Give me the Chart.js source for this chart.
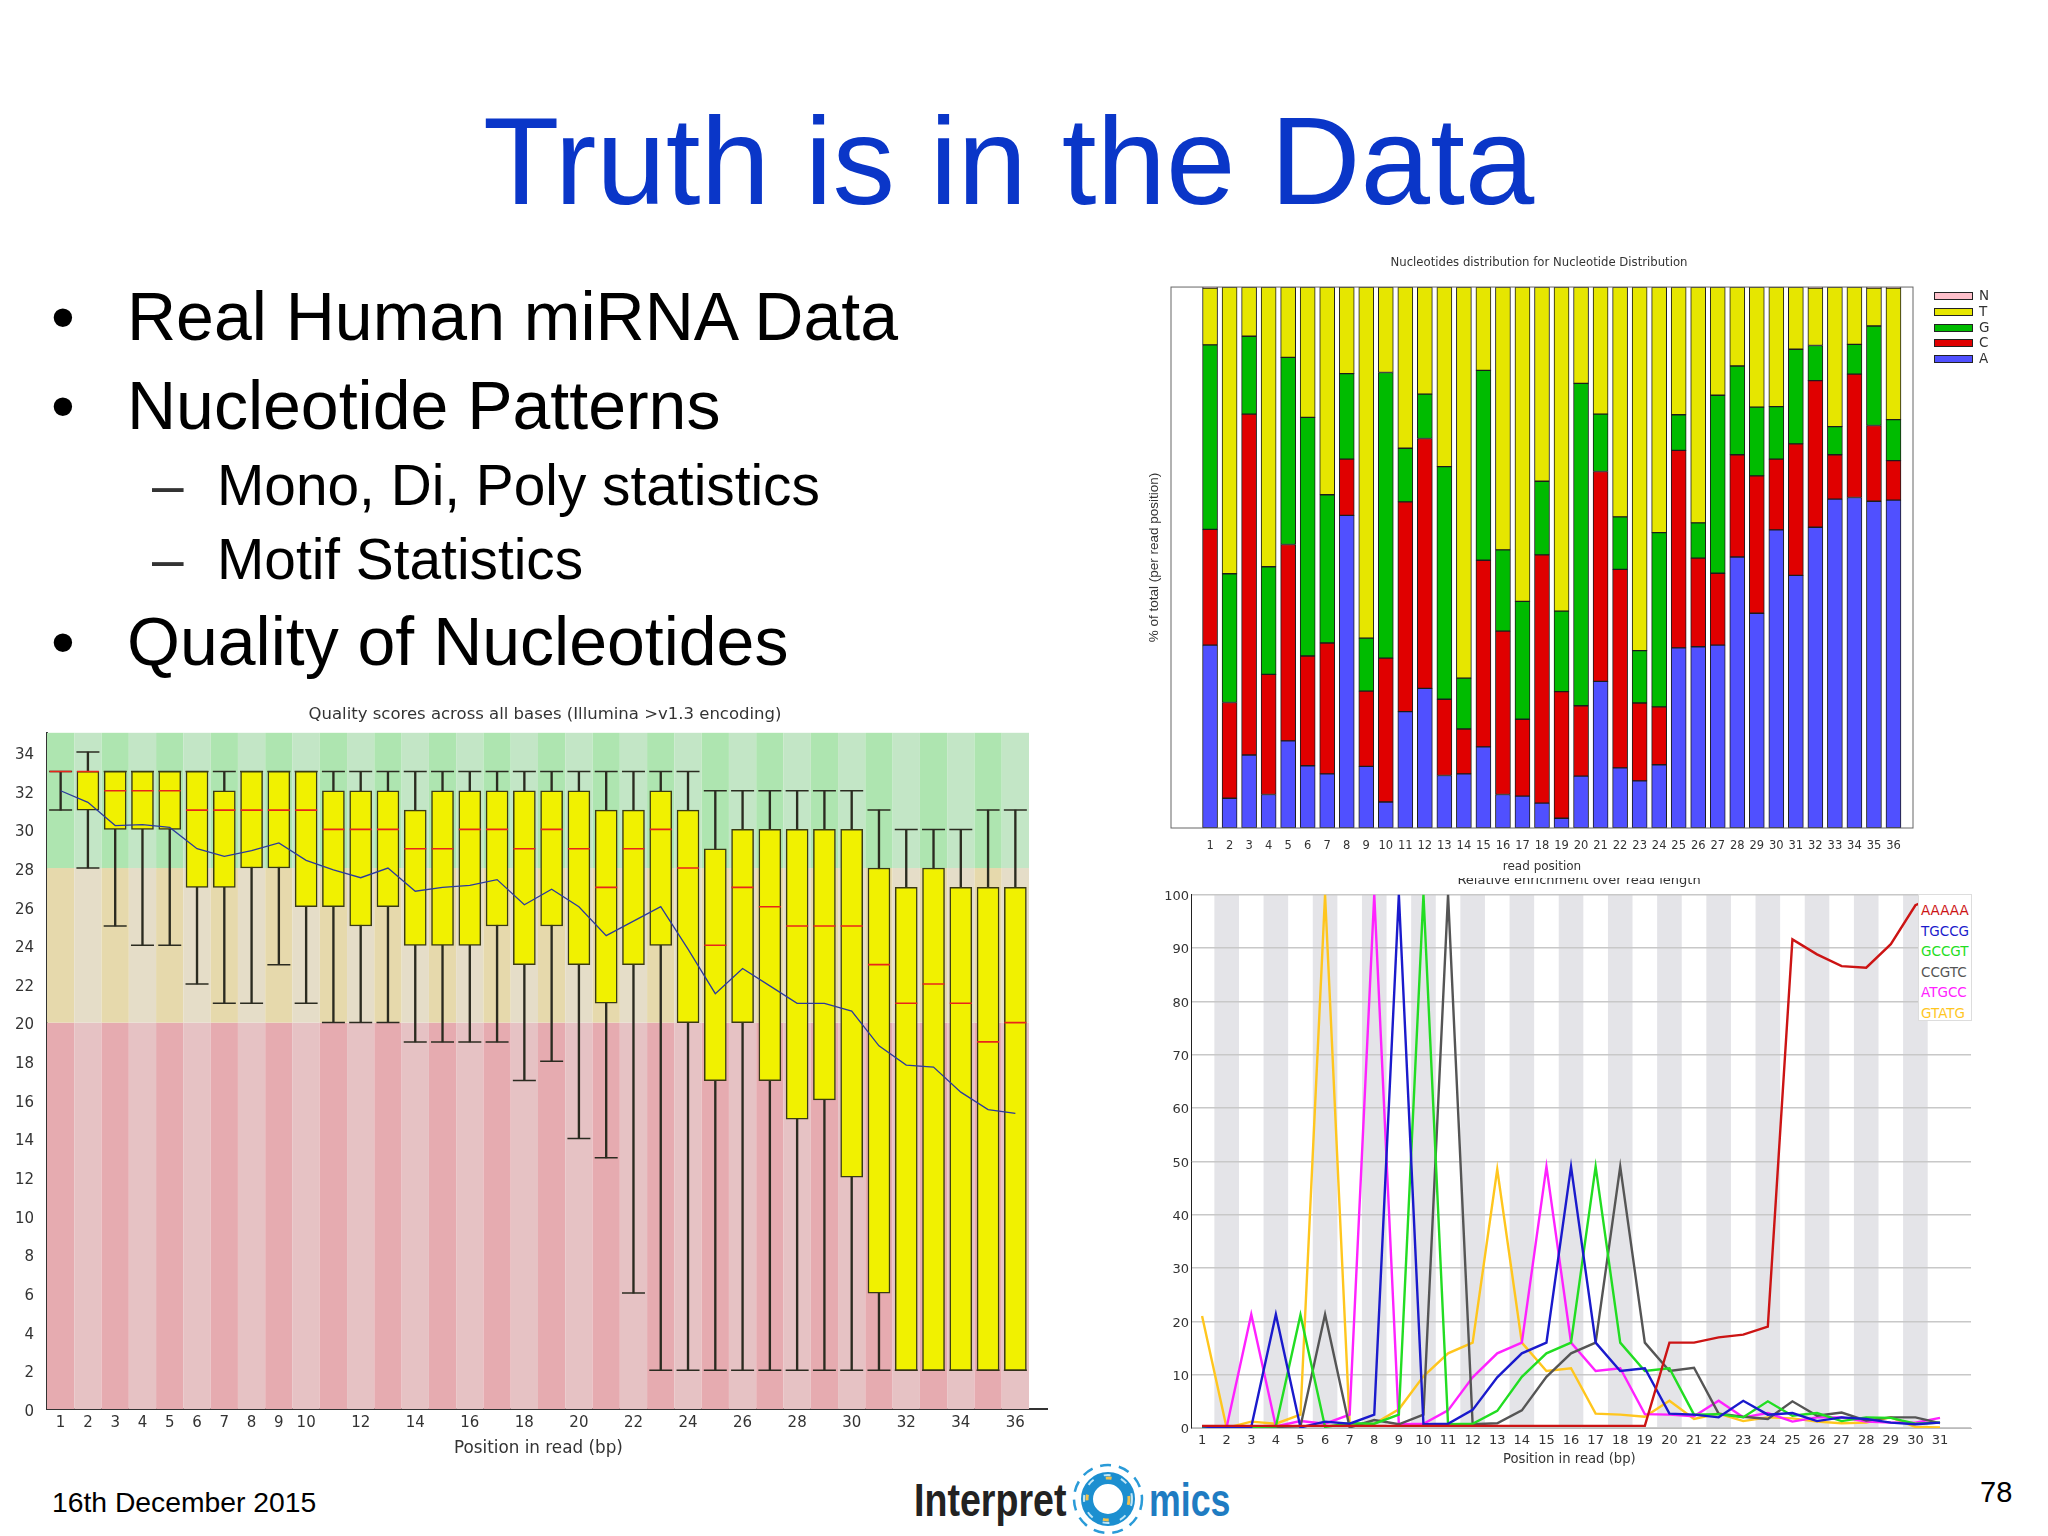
<!DOCTYPE html>
<html>
<head>
<meta charset="utf-8">
<title>Truth is in the Data</title>
<script src="https://cdn.jsdelivr.net/npm/chart.js@4"></script>
<style>
  html, body { margin: 0; background: #fff; }
  #slide { position: relative; width: 2048px; height: 1536px; overflow: hidden; font-family: "Liberation Sans", Arial, sans-serif; color: #000; }
  #slide canvas { position: absolute; }
  .txt { position: absolute; white-space: nowrap; line-height: 1; }
  .legendA { position: absolute; font-family: "DejaVu Sans", sans-serif; }
</style>
</head>
<body>
<div id="slide">
  <div class="txt" style="left:483px;top:98px;font-size:125px;color:#0a36c8">Truth is in the Data</div>

  <div class="txt" style="left:51px;top:282px;font-size:68px">•</div>
  <div class="txt" style="left:127px;top:282px;font-size:68px">Real Human miRNA Data</div>
  <div class="txt" style="left:51px;top:371px;font-size:68px">•</div>
  <div class="txt" style="left:127px;top:371px;font-size:68px">Nucleotide Patterns</div>
  <div class="txt" style="left:152px;top:458px;font-size:56.8px;color:#333">–</div>
  <div class="txt" style="left:217px;top:458px;font-size:56.8px">Mono, Di, Poly statistics</div>
  <div class="txt" style="left:152px;top:532px;font-size:56.8px;color:#333">–</div>
  <div class="txt" style="left:217px;top:532px;font-size:56.8px">Motif Statistics</div>
  <div class="txt" style="left:51px;top:607px;font-size:68px">•</div>
  <div class="txt" style="left:127px;top:607px;font-size:68px">Quality of Nucleotides</div>

  <div class="txt" style="left:52px;top:1488px;font-size:28.3px">16th December 2015</div>
  <div class="txt" style="left:1980px;top:1478px;font-size:29px">78</div>

  <div class="txt" style="left:914px;top:1476px;font-size:47px;font-weight:bold;color:#222;font-family:'Liberation Sans Narrow','Liberation Sans';transform-origin:0 0;transform:scaleX(0.8)">Interpret</div>
  <div class="txt" style="left:1149px;top:1476px;font-size:47px;font-weight:bold;color:#1f7cc2;font-family:'Liberation Sans Narrow','Liberation Sans';transform-origin:0 0;transform:scaleX(0.76)">mics</div>
  <svg style="position:absolute;left:1068px;top:1459px" width="80" height="80" viewBox="0 0 80 80">
    <circle cx="40" cy="40" r="21" fill="none" stroke="#1c8fd0" stroke-width="12"/>
    <circle cx="40" cy="40" r="21" fill="none" stroke="#f2c14e" stroke-width="3" stroke-dasharray="6 26"/>
    <circle cx="40" cy="40" r="24" fill="none" stroke="#bfe6f7" stroke-width="2" stroke-dasharray="7 11"/>
    <circle cx="40" cy="40" r="34" fill="none" stroke="#2a9bd8" stroke-width="2.5" stroke-dasharray="11 8"/>
  </svg>

  <canvas id="qualityChart" style="left:0;top:700px;z-index:1" width="1090" height="770"></canvas>
  <canvas id="kmerChart" style="left:1130px;top:860px;z-index:1" width="898" height="620"></canvas>
  <canvas id="nucChart" style="left:1130px;top:240px;z-index:2;background:#fff" width="818" height="638"></canvas>
  <div id="nucLegend" style="z-index:3"></div>
  <div id="kmerLegend" style="position:absolute;z-index:3;left:1918px;top:894px;width:52px;height:125px;background:#fff;border:1px solid #ddd"></div>
  <div class="txt" style="left:454px;top:1439px;z-index:3;font-family:'DejaVu Sans';font-size:16.8px;color:#333">Position in read (bp)</div>
  <div class="txt" style="left:1503px;top:1452px;z-index:3;font-family:'DejaVu Sans';font-size:13.2px;color:#333">Position in read (bp)</div>
</div>

<script>
// ---- Quality scores ----
const qualityPositions = [];
for (let i = 1; i <= 36; i++) qualityPositions.push(i);
const qualityXTicks = [1, 2, 3, 4, 5, 6, 7, 8, 9, 10, 12, 14, 16, 18, 20, 22, 24, 26, 28, 30, 32, 34, 36];
const qualityYTicks = [0, 2, 4, 6, 8, 10, 12, 14, 16, 18, 20, 22, 24, 26, 28, 30, 32, 34];
const whiskerLow = [31, 28, 25, 24, 24, 22, 21, 21, 23, 21, 20, 20, 20, 19, 19, 19, 19, 17, 18, 14, 13, 6, 2, 2, 2, 2, 2, 2, 2, 2, 2, 2, 2, 2, 2, 2];
const boxQ1 = [33, 31, 30, 30, 30, 27, 27, 28, 28, 26, 26, 25, 26, 24, 24, 24, 25, 23, 25, 23, 21, 23, 24, 20, 17, 20, 17, 15, 16, 12, 6, 2, 2, 2, 2, 2];
const boxMedian = [33, 33, 32, 32, 32, 31, 31, 31, 31, 31, 30, 30, 30, 29, 29, 30, 30, 29, 30, 29, 27, 29, 30, 28, 24, 27, 26, 25, 25, 25, 23, 21, 22, 21, 19, 20];
const boxQ3 = [33, 33, 33, 33, 33, 33, 32, 33, 33, 33, 32, 32, 32, 31, 32, 32, 32, 32, 32, 32, 31, 31, 32, 31, 29, 30, 30, 30, 30, 30, 28, 27, 28, 27, 27, 27];
const whiskerHigh = [33, 34, 33, 33, 33, 33, 33, 33, 33, 33, 33, 33, 33, 33, 33, 33, 33, 33, 33, 33, 33, 33, 33, 33, 32, 32, 32, 32, 32, 32, 31, 30, 30, 30, 31, 31];
const qualityMean = [32, 31.4, 30.2, 30.25, 30.1, 29, 28.6, 28.9, 29.3, 28.4, 27.9, 27.5, 28, 26.8, 27, 27.1, 27.4, 26.1, 26.9, 26, 24.5, 25.25, 26, 23.8, 21.5, 22.8, 21.9, 21, 21, 20.6, 18.8, 17.8, 17.7, 16.4, 15.5, 15.3];
const zoneEdges = [0, 20, 28, 35];
const zoneDark = ["#e6abb0", "#e6d9ac", "#aee5b0"];
const zoneLight = ["#e6c2c4", "#e5ddc8", "#c3e6c6"];

// ---- Nucleotide distribution ----
const nucPositions = [];
for (let i = 1; i <= 36; i++) nucPositions.push(i);
const nucA = [33.8, 5.5, 13.5, 6.2, 16.1, 11.5, 10, 57.8, 11.4, 4.8, 21.5, 25.8, 9.7, 10, 15, 6.2, 5.9, 4.6, 1.8, 9.6, 27.1, 11.1, 8.7, 11.7, 33.3, 33.5, 33.8, 50.1, 39.7, 55.1, 46.7, 55.6, 60.8, 61.1, 60.4, 60.6];
const nucC = [21.4, 17.7, 63, 22.2, 36.3, 20.3, 24.2, 10.4, 13.9, 26.6, 38.8, 46.2, 14.1, 8.3, 34.5, 30.2, 14.2, 45.9, 23.4, 13, 38.8, 36.7, 14.4, 10.7, 36.5, 16.4, 13.3, 18.9, 25.4, 13.1, 24.3, 27.1, 8.2, 22.8, 14, 7.3];
const nucG = [34.1, 23.8, 14.4, 19.9, 34.6, 44.1, 27.4, 15.8, 9.8, 52.8, 9.9, 8.2, 43, 9.4, 35.1, 15, 21.8, 13.6, 14.9, 59.6, 10.6, 9.7, 9.7, 32.2, 6.6, 6.5, 32.9, 16.4, 12.7, 9.7, 17.5, 6.5, 5.2, 5.5, 18.4, 7.6];
const nucT = [10.5, 53, 9.1, 51.7, 13, 24.1, 38.4, 16, 64.9, 15.8, 29.8, 19.8, 33.2, 72.3, 15.4, 48.6, 58.1, 35.9, 59.9, 17.8, 23.5, 42.5, 67.2, 45.4, 23.6, 43.6, 20, 14.6, 22.2, 22.1, 11.5, 10.6, 25.8, 10.6, 7, 24.3];
const nucN = [0.2, 0, 0, 0, 0, 0, 0, 0, 0, 0, 0, 0, 0, 0, 0, 0, 0, 0, 0, 0, 0, 0, 0, 0, 0, 0, 0, 0, 0, 0, 0, 0.2, 0, 0, 0.2, 0.2];
const nucNames = ["N", "T", "G", "C", "A"];
const nucColors = ["#ffc0cb", "#e6e600", "#00bb00", "#e00000", "#5050ff"];

// ---- Relative enrichment ----
const kmerPositions = [];
for (let i = 1; i <= 31; i++) kmerPositions.push(i);
const kmerNames = ["AAAAA", "TGCCG", "GCCGT", "CCGTC", "ATGCC", "GTATG"];
const kmerColors = ["#cc1414", "#1a1acc", "#22dd22", "#555555", "#ff22ff", "#ffc61e"];
const aaaaa = [0.4, 0.4, 0.4, 0.4, 0.4, 0.4, 0.4, 0.4, 0.4, 0.4, 0.4, 0.4, 0.4, 0.4, 0.4, 0.4, 0.4, 0.4, 0.4, 16, 16, 17, 17.5, 19, 91.6, 88.8, 86.6, 86.3, 90.7, 98, 100];
const tgccg = [0.3, 0, 0.2, 21.3, 0.1, 1.2, 0.8, 2.5, 100, 0.7, 0.8, 3.4, 9.5, 14, 16, 49, 16, 10.7, 11.2, 2.7, 2.5, 2, 5.1, 2.5, 2.8, 1.3, 2, 1.7, 1, 0.7, 1];
const gccgt = [0.2, 0, 0.2, 0.3, 21.2, 0.2, 0.9, 0.8, 2.5, 100, 0.7, 0.8, 3.2, 9.6, 14, 16, 49, 16, 10.7, 11.2, 2.5, 2.6, 2, 5, 2.3, 2.8, 1.3, 2, 1.9, 0.8, 1];
const ccgtc = [0.2, 0, 0.2, 0.2, 0.3, 21.3, 0.1, 1.5, 0.7, 2.5, 100, 0.7, 0.9, 3.3, 9.6, 14, 16, 49, 16, 10.7, 11.3, 2.7, 2.1, 1.7, 5, 2.3, 2.9, 1.4, 2, 2, 0.9];
const atgcc = [0.3, 0.2, 21.3, 0.3, 1.3, 0.8, 2.5, 100, 0.7, 0.8, 3.3, 9.5, 14, 16, 49, 16, 10.7, 11.2, 2.6, 2.5, 2.2, 5.1, 2, 2.8, 1.2, 2, 2, 1.2, 1, 1, 1.9];
const gtatg = [21, 0, 1.2, 0.8, 2.5, 100, 0.7, 0.8, 3.5, 9.7, 14, 16, 48.5, 16, 10.7, 11.2, 2.7, 2.5, 2.1, 5.1, 1.7, 2.7, 1.3, 2, 1.8, 1.2, 0.9, 1, 2, 0.2, 0.1];
const kmerSeries = [aaaaa, tgccg, gccgt, ccgtc, atgcc, gtatg];
const kmerYTicks = [0, 10, 20, 30, 40, 50, 60, 70, 80, 90, 100];
const kmerBands = [2, 4, 6, 8, 10, 12, 14, 16, 18, 20, 22, 24, 26, 28, 30];

const dejavu = size => ({ family: "DejaVu Sans", size, weight: "normal" });
const setTicks = list => scale => { scale.ticks = list.map(v => ({ value: v })); };
const fixWidth = w => scale => { scale.width = w; };
const fixHeight = h => scale => { scale.height = h; };
// empty right-hand axis: keeps the plot off the canvas edge while the title stays centred on the canvas
const rightGutter = w => ({ axis: "y", position: "right", min: 0, max: 1, grid: { display: false }, border: { display: false }, ticks: { display: false }, afterFit: fixWidth(w) });

// Coloured quality zones behind the boxes
const qualityZones = {
  id: "qualityZones",
  beforeDatasetsDraw(chart) {
    const { ctx, scales: { x, y } } = chart;
    qualityPositions.forEach(p => {
      const left = x.getPixelForValue(p - 0.5);
      const right = x.getPixelForValue(p + 0.5);
      for (let z = 0; z < 3; z++) {
        const top = y.getPixelForValue(zoneEdges[z + 1]);
        const bottom = y.getPixelForValue(zoneEdges[z]);
        ctx.fillStyle = p % 2 ? zoneDark[z] : zoneLight[z];
        ctx.fillRect(left, top, right - left, bottom - top);
      }
    });
  }
};

new Chart(document.getElementById("qualityChart"), {
  type: "bar",
  plugins: [qualityZones],
  data: {
    labels: qualityPositions,
    datasets: [
      { type: "line", label: "Mean", data: qualityMean, borderColor: "#2b3a9c", borderWidth: 1.3, pointRadius: 0, order: 1 },
      { type: "line", label: "Median", data: boxMedian, showLine: false, pointStyle: "line", pointRadius: 11, pointBorderWidth: 1.6, pointBorderColor: "#e8261a", order: 2 },
      { label: "Box", data: boxQ1.map((q, i) => [q, boxQ3[i]]), backgroundColor: "#f1f100", borderColor: "#3a3a14", borderWidth: 1.5, borderSkipped: false, barThickness: 22, grouped: false, order: 3 },
      { type: "line", label: "Low", data: whiskerLow, showLine: false, pointStyle: "line", pointRadius: 11.5, pointBorderWidth: 1.5, pointBorderColor: "#2b2b20", order: 4 },
      { type: "line", label: "High", data: whiskerHigh, showLine: false, pointStyle: "line", pointRadius: 11.5, pointBorderWidth: 1.5, pointBorderColor: "#2b2b20", order: 4 },
      { label: "Whisker", data: whiskerLow.map((w, i) => [w, whiskerHigh[i]]), backgroundColor: "#2b2b20", borderWidth: 0, barThickness: 1.7, grouped: false, order: 5 }
    ]
  },
  options: {
    responsive: false,
    animation: false,
    plugins: {
      legend: { display: false },
      tooltip: { enabled: false },
      title: { display: true, text: "Quality scores across all bases (Illumina >v1.3 encoding)", color: "#333", font: dejavu(16.5), padding: { top: 5, bottom: 8 } }
    },
    scales: {
      x: {
        type: "linear", min: 0.5, max: 37.16, offset: false,
        grid: { display: false },
        border: { color: "#333", width: 2 },
        afterBuildTicks: setTicks(qualityXTicks),
        afterFit: fixHeight(61),
        ticks: { color: "#333", font: dejavu(15), padding: -3, autoSkip: false, maxRotation: 0 }
      },
      y: {
        min: 0, max: 35,
        grid: { display: false },
        border: { color: "#333", width: 2 },
        afterBuildTicks: setTicks(qualityYTicks),
        afterFit: fixWidth(47),
        ticks: { color: "#333", font: dejavu(15), padding: 5, autoSkip: false, labelOffset: 3 }
      },
      gutter: rightGutter(43)
    }
  }
});

// Grey frame round the stacked bars
const nucFrame = {
  id: "nucFrame",
  afterDatasetsDraw(chart) {
    const { ctx, chartArea: a } = chart;
    ctx.strokeStyle = "#666";
    ctx.lineWidth = 1;
    ctx.strokeRect(a.left, a.top, a.right - a.left, a.bottom - a.top);
  }
};

const nucValues = [nucA, nucC, nucG, nucT, nucN];
const nucOrder = ["A", "C", "G", "T", "N"];

new Chart(document.getElementById("nucChart"), {
  type: "bar",
  plugins: [nucFrame],
  data: {
    labels: nucPositions,
    datasets: nucOrder.map((name, i) => ({
      label: name,
      data: nucValues[i],
      backgroundColor: nucColors[nucNames.indexOf(name)],
      borderColor: "#1c1c1c",
      borderWidth: 1,
      borderSkipped: false,
      barThickness: 15
    }))
  },
  options: {
    responsive: false,
    animation: false,
    plugins: {
      legend: { display: false },
      tooltip: { enabled: false },
      title: { display: true, text: "Nucleotides distribution for Nucleotide Distribution", color: "#333", font: dejavu(11.7), padding: { top: 16, bottom: 17 } }
    },
    scales: {
      x: {
        type: "linear", min: -1, max: 37, offset: false, stacked: true,
        grid: { display: false },
        border: { display: false },
        afterBuildTicks: setTicks(nucPositions),
        afterFit: fixHeight(50),
        ticks: { color: "#333", font: dejavu(11.5), padding: 3, autoSkip: false, maxRotation: 0 },
        title: { display: true, text: "read position", color: "#333", font: dejavu(12), padding: { top: 0, bottom: 4 } }
      },
      y: {
        min: 0, max: 100, stacked: true,
        grid: { display: false },
        border: { display: false },
        afterFit: fixWidth(41),
        ticks: { display: false },
        title: { display: true, text: "% of total (per read position)", color: "#333", font: { family: "Liberation Sans", size: 13.5 }, padding: { top: 16, bottom: 0 } }
      },
      gutter: rightGutter(35)
    }
  }
});

// Grey stripes on even read positions
const kmerStripes = {
  id: "kmerStripes",
  beforeDraw(chart) {
    const { ctx, chartArea: a, scales: { x } } = chart;
    ctx.fillStyle = "#e4e4e8";
    kmerBands.forEach(p => {
      const left = x.getPixelForValue(p - 0.5);
      const right = x.getPixelForValue(p + 0.5);
      ctx.fillRect(left, a.top, right - left, a.bottom - a.top);
    });
  }
};

new Chart(document.getElementById("kmerChart"), {
  type: "line",
  plugins: [kmerStripes],
  data: {
    labels: kmerPositions,
    datasets: kmerNames.map((name, i) => ({
      label: name,
      data: kmerSeries[i],
      borderColor: kmerColors[i],
      borderWidth: 2.4,
      pointRadius: 0,
      tension: 0
    }))
  },
  options: {
    responsive: false,
    animation: false,
    plugins: {
      legend: { display: false },
      tooltip: { enabled: false },
      title: { display: true, text: "Relative enrichment over read length", color: "#333", font: dejavu(13), padding: { top: 13, bottom: 6 } }
    },
    scales: {
      x: {
        type: "linear", min: 0.55, max: 32.26,
        grid: { display: false },
        border: { color: "#bbb", width: 1 },
        afterBuildTicks: setTicks(kmerPositions),
        afterFit: fixHeight(52),
        ticks: { color: "#333", font: dejavu(13), padding: -3, autoSkip: false, maxRotation: 0 }
      },
      y: {
        min: 0, max: 100,
        grid: { color: "#c8c8c8", lineWidth: 1.5, drawTicks: false },
        border: { color: "#222", width: 1 },
        afterBuildTicks: setTicks(kmerYTicks),
        afterFit: fixWidth(61),
        ticks: { color: "#333", font: dejavu(13), padding: 2, autoSkip: false, labelOffset: 2 }
      },
      gutter: rightGutter(57)
    }
  }
});

// Legends
const nucLegend = document.getElementById("nucLegend");
nucNames.forEach((name, i) => {
  const top = 292 + i * 15.8;
  const swatch = document.createElement("div");
  swatch.style.cssText = `position:absolute;left:1934px;top:${top}px;width:37px;height:6px;border:1px solid #222;background:${nucColors[i]};z-index:3`;
  nucLegend.appendChild(swatch);
  const label = document.createElement("div");
  label.className = "legendA";
  label.textContent = name;
  label.style.cssText = `left:1979px;top:${top - 4}px;font-size:13.5px;line-height:14px;color:#333;z-index:3`;
  nucLegend.appendChild(label);
});

const kmerLegend = document.getElementById("kmerLegend");
kmerNames.forEach((name, i) => {
  const label = document.createElement("div");
  label.className = "legendA";
  label.textContent = name;
  label.style.cssText = `left:2px;top:${6 + i * 20.5}px;font-size:13.5px;line-height:18px;color:${kmerColors[i]}`;
  kmerLegend.appendChild(label);
});
</script>
</body>
</html>
